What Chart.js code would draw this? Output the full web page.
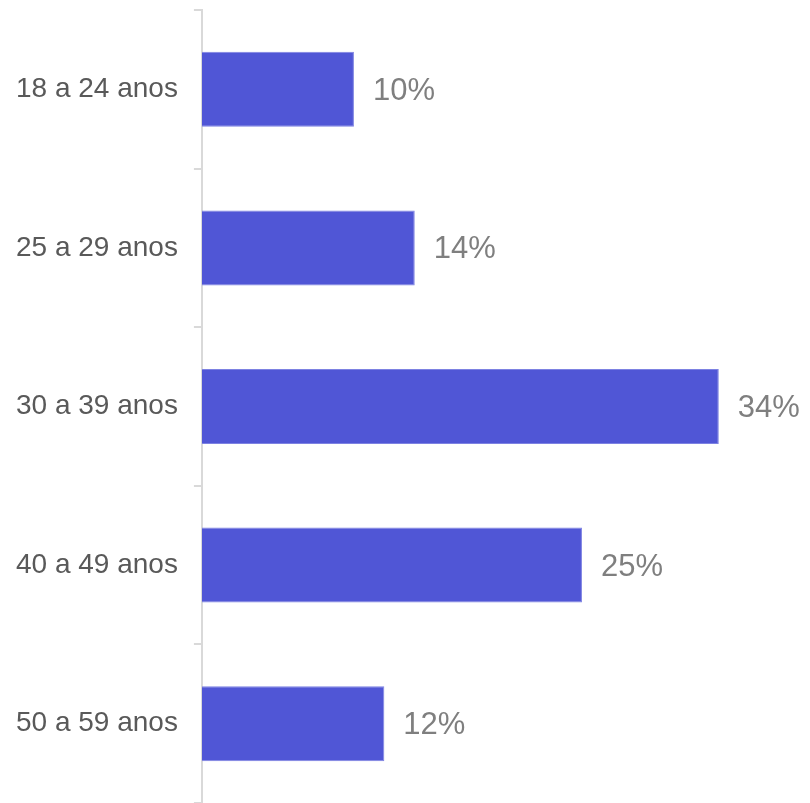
<!DOCTYPE html>
<html>
<head>
<meta charset="utf-8">
<script src="https://cdn.jsdelivr.net/npm/chart.js@4"></script>
<style>
  html, body { margin: 0; padding: 0; background: #fff; }
  #wrap { width: 810px; height: 803px; position: relative; }
</style>
</head>
<body>
<div id="wrap"><canvas id="faixaEtaria"></canvas></div>
<script>
const faixas = ['18 a 24 anos', '25 a 29 anos', '30 a 39 anos', '40 a 49 anos', '50 a 59 anos'];
const percentuais = [10, 14, 34, 25, 12];

// writes "NN%" just past the end of each bar
const valueLabels = {
    id: 'valueLabels',
    afterDatasetsDraw(chart) {
        const ctx = chart.ctx;
        const meta = chart.getDatasetMeta(0);
        ctx.save();
        ctx.font = '31px "Liberation Sans", Arial, sans-serif';
        ctx.fillStyle = '#7f7f7f';
        ctx.textAlign = 'left';
        ctx.textBaseline = 'middle';
        meta.data.forEach((bar, i) => {
            ctx.fillText(percentuais[i] + '%', bar.x + 19, bar.y + 2);
        });
        ctx.restore();
    }
};

var ctx = document.getElementById('faixaEtaria').getContext('2d');

new Chart(ctx, {
    type: 'bar',
    data: {
        labels: faixas,
        datasets: [{
            data: percentuais,
            backgroundColor: '#5056d6',
            borderColor: '#7d82e2',
            borderWidth: 1,
            categoryPercentage: 1,
            barPercentage: 0.473
        }]
    },
    options: {
        indexAxis: 'y',
        responsive: true,
        maintainAspectRatio: false,
        animation: false,
        layout: {
            padding: { left: 0, top: 10, right: 0, bottom: -3 }
        },
        plugins: {
            legend: { display: false },
            tooltip: { enabled: false }
        },
        scales: {
            x: {
                display: false,
                min: 0,
                max: 40
            },
            y: {
                // the axis runs from top to bottom edge, no extra room for half labels
                afterFit(scale) {
                    scale.paddingTop = 0;
                    scale.paddingBottom = 0;
                },
                grid: {
                    drawOnChartArea: false,
                    drawTicks: true,
                    tickLength: 8,
                    color: '#d9d9d9',
                    lineWidth: 2
                },
                border: {
                    color: '#d9d9d9',
                    width: 2
                },
                ticks: {
                    padding: 16,
                    color: '#595959',
                    font: { family: '"Liberation Sans", Arial, sans-serif', size: 28 }
                }
            }
        }
    },
    plugins: [valueLabels]
});
</script>
</body>
</html>
